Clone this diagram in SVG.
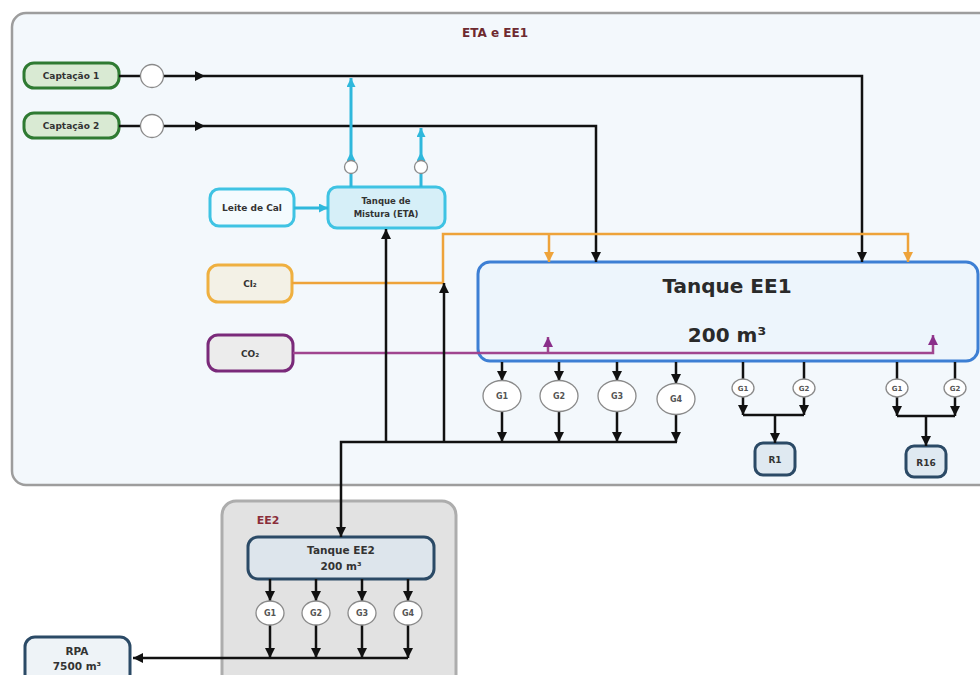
<svg xmlns="http://www.w3.org/2000/svg" width="980" height="675" viewBox="0 0 980 675">
<defs>
<marker id="ak" viewBox="0 0 10 10" refX="10" refY="5" markerWidth="10" markerHeight="10" markerUnits="userSpaceOnUse" orient="auto"><path d="M0,0 L10,5 L0,10 z" fill="#111"/></marker>
<marker id="ac" viewBox="0 0 10 10" refX="10" refY="5" markerWidth="9" markerHeight="9" markerUnits="userSpaceOnUse" orient="auto"><path d="M0,0 L10,5 L0,10 z" fill="#2fb8dc"/></marker>
<marker id="ao" viewBox="0 0 10 10" refX="10" refY="5" markerWidth="10" markerHeight="10" markerUnits="userSpaceOnUse" orient="auto"><path d="M0,0 L10,5 L0,10 z" fill="#eea33a"/></marker>
<marker id="ap" viewBox="0 0 10 10" refX="10" refY="5" markerWidth="10" markerHeight="10" markerUnits="userSpaceOnUse" orient="auto"><path d="M0,0 L10,5 L0,10 z" fill="#8a2f8a"/></marker>
</defs>
<style>
text{font-family:"DejaVu Sans","Liberation Sans",sans-serif;font-weight:bold;fill:#333;text-anchor:middle}
.t{font-size:9px}
.k{fill:none;stroke:#111;stroke-width:2.5}
.c{fill:none;stroke:#2fb8dc;stroke-width:3}
.o{fill:none;stroke:#eea33a;stroke-width:2.5}
.p{fill:none;stroke:#a0458f;stroke-width:2.5}
.v{fill:#fff;stroke:#8a8a8a;stroke-width:1.3}
.g{font-size:8px;fill:#555}
.nav{stroke:#2b4a66;stroke-width:3}
</style>
<rect width="980" height="675" fill="#fff"/>
<g id="eta-ee1">
<rect x="12" y="13" width="990" height="472" rx="14" fill="#f3f8fc" stroke="#9d9d9d" stroke-width="2.5"/>
<text x="495" y="37" style="font-size:12px;fill:#6e2a30">ETA e EE1</text>
</g>
<g id="ee2">
<rect x="222" y="501" width="234" height="190" rx="14" fill="#e2e2e2" stroke="#adadad" stroke-width="3"/>
<text x="268" y="524" style="font-size:11px;fill:#8a2e3a">EE2</text>
</g>
<g id="captacao1"><rect x="24" y="63" width="95" height="25" rx="10" fill="#d9ead3" stroke="#2f7a32" stroke-width="3"/><text class="t" x="71" y="79">Captação 1</text></g>
<g id="captacao2"><rect x="24" y="113" width="95" height="25" rx="10" fill="#d9ead3" stroke="#2f7a32" stroke-width="3"/><text class="t" x="71" y="129">Captação 2</text></g>
<g id="leite"><rect x="210" y="189" width="84" height="37" rx="9" fill="#f4fbfe" stroke="#3fc3e3" stroke-width="3"/><text class="t" x="252" y="211">Leite de Cal</text></g>
<g id="mistura"><rect x="328" y="187" width="117" height="41" rx="9" fill="#d6eff8" stroke="#3fc3e3" stroke-width="3"/><text class="t" x="386" y="204" style="font-size:8.5px">Tanque de</text><text class="t" x="386" y="217" style="font-size:8.5px">Mistura (ETA)</text></g>
<g id="cl2"><rect x="208" y="265" width="84" height="37" rx="10" fill="#f3f1e6" stroke="#efb040" stroke-width="3"/><text class="t" x="250" y="287">Cl₂</text></g>
<g id="co2"><rect x="208" y="335" width="85" height="36" rx="10" fill="#ececec" stroke="#7a2a7a" stroke-width="3"/><text class="t" x="250" y="357">CO₂</text></g>
<g id="tanque-ee1"><rect x="478" y="262" width="500" height="99" rx="12" fill="#edf5fc" stroke="#3d7fd4" stroke-width="3"/><text x="727" y="293" style="font-size:20px;fill:#2a2a2a">Tanque EE1</text><text x="727" y="342" style="font-size:20px;fill:#2a2a2a">200 m³</text></g>
<g id="r1"><rect x="755" y="443" width="40" height="32" rx="8" fill="#dfe9f1" class="nav"/><text class="t" x="775" y="463">R1</text></g>
<g id="r16"><rect x="906" y="446" width="40" height="31" rx="8" fill="#dfe9f1" class="nav"/><text class="t" x="926" y="466">R16</text></g>
<g id="tanque-ee2"><rect x="248" y="537" width="186" height="42" rx="10" fill="#dde5ec" class="nav"/><text x="341" y="554" style="font-size:10.5px">Tanque EE2</text><text x="341" y="570" style="font-size:10.5px">200 m³</text></g>
<g id="rpa"><rect x="25" y="637" width="105" height="50" rx="10" fill="#eef3f7" class="nav"/><text x="77" y="655" style="font-size:10.5px">RPA</text><text x="77" y="670" style="font-size:10.5px">7500 m³</text></g>
<g id="connectors">
<path class="k" d="M119,76 H205" marker-end="url(#ak)"/>
<path class="k" d="M205,76 H862 V262" marker-end="url(#ak)"/>
<path class="k" d="M119,126 H205" marker-end="url(#ak)"/>
<path class="k" d="M205,126 H596 V262" marker-end="url(#ak)"/>
<path class="c" d="M294,208 H328" marker-end="url(#ac)"/>
<path class="c" d="M351,187 V152" marker-end="url(#ac)"/>
<path class="c" d="M351,152 V78" marker-end="url(#ac)"/>
<path class="c" d="M421,187 V152" marker-end="url(#ac)"/>
<path class="c" d="M421,152 V128" marker-end="url(#ac)"/>
<path class="o" d="M292,283 H443 V234 H908 V262" marker-end="url(#ao)"/>
<path class="o" d="M549,234 V262" marker-end="url(#ao)"/>
<path class="p" d="M293,353 H933 V335" marker-end="url(#ap)"/>
<path class="p" d="M548,353 V337" marker-end="url(#ap)"/>
<path class="k" d="M677,442 H341 V537" marker-end="url(#ak)"/>
<path class="k" d="M386,442 V229" marker-end="url(#ak)"/>
<path class="k" d="M444,442 V283" marker-end="url(#ak)"/>
<path class="k" d="M502,362 V381" marker-end="url(#ak)"/>
<path class="k" d="M502,410 V442" marker-end="url(#ak)"/>
<path class="k" d="M559,362 V381" marker-end="url(#ak)"/>
<path class="k" d="M559,410 V442" marker-end="url(#ak)"/>
<path class="k" d="M617,362 V381" marker-end="url(#ak)"/>
<path class="k" d="M617,410 V442" marker-end="url(#ak)"/>
<path class="k" d="M676,362 V384" marker-end="url(#ak)"/>
<path class="k" d="M676,413 V442" marker-end="url(#ak)"/>
<path class="k" d="M743,362 V380"/>
<path class="k" d="M804,362 V380"/>
<path class="k" d="M743,397 V415" marker-end="url(#ak)"/>
<path class="k" d="M804,397 V415" marker-end="url(#ak)"/>
<path class="k" d="M743,415 H804 M775,415 V443" marker-end="url(#ak)"/>
<path class="k" d="M897,362 V380"/>
<path class="k" d="M955,362 V380"/>
<path class="k" d="M897,397 V416" marker-end="url(#ak)"/>
<path class="k" d="M955,397 V416" marker-end="url(#ak)"/>
<path class="k" d="M897,416 H955 M926,416 V446" marker-end="url(#ak)"/>
<path class="k" d="M270,579 V601" marker-end="url(#ak)"/>
<path class="k" d="M316,579 V601" marker-end="url(#ak)"/>
<path class="k" d="M362,579 V601" marker-end="url(#ak)"/>
<path class="k" d="M408,579 V601" marker-end="url(#ak)"/>
<path class="k" d="M270,625 V658" marker-end="url(#ak)"/>
<path class="k" d="M316,625 V658" marker-end="url(#ak)"/>
<path class="k" d="M362,625 V658" marker-end="url(#ak)"/>
<path class="k" d="M408,625 V658" marker-end="url(#ak)"/>
<path class="k" d="M408,658 H133" marker-end="url(#ak)"/>
</g>
<g id="valves">
<circle class="v" cx="152" cy="76" r="11.5"/>
<circle class="v" cx="152" cy="126" r="11.5"/>
<circle class="v" cx="351" cy="167" r="6.5"/>
<circle class="v" cx="421" cy="167" r="6.5"/>
</g>
<g id="pumps-ee1">
<ellipse class="v" cx="502" cy="396" rx="19" ry="15.5"/><text class="g" x="502" y="399">G1</text>
<ellipse class="v" cx="559" cy="396" rx="19" ry="15.5"/><text class="g" x="559" y="399">G2</text>
<ellipse class="v" cx="617" cy="396" rx="19" ry="15.5"/><text class="g" x="617" y="399">G3</text>
<ellipse class="v" cx="676" cy="399" rx="19" ry="15.5"/><text class="g" x="676" y="402">G4</text>
</g>
<g id="pumps-r1">
<ellipse class="v" cx="743" cy="388" rx="11" ry="9"/><text class="g" x="743" y="391" style="font-size:7px">G1</text>
<ellipse class="v" cx="804" cy="388" rx="11" ry="9"/><text class="g" x="804" y="391" style="font-size:7px">G2</text>
</g>
<g id="pumps-r16">
<ellipse class="v" cx="897" cy="388" rx="11" ry="9"/><text class="g" x="897" y="391" style="font-size:7px">G1</text>
<ellipse class="v" cx="955" cy="388" rx="11" ry="9"/><text class="g" x="955" y="391" style="font-size:7px">G2</text>
</g>
<g id="pumps-ee2">
<ellipse class="v" cx="270" cy="613" rx="14" ry="12"/><text class="g" x="270" y="616">G1</text>
<ellipse class="v" cx="316" cy="613" rx="14" ry="12"/><text class="g" x="316" y="616">G2</text>
<ellipse class="v" cx="362" cy="613" rx="14" ry="12"/><text class="g" x="362" y="616">G3</text>
<ellipse class="v" cx="408" cy="613" rx="14" ry="12"/><text class="g" x="408" y="616">G4</text>
</g>
</svg>
